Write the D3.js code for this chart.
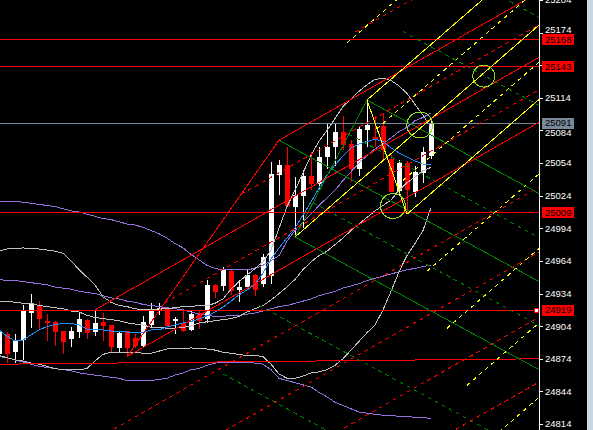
<!DOCTYPE html>
<html><head><meta charset="utf-8">
<script src="https://cdn.jsdelivr.net/npm/d3@7"></script>
<style>html,body{margin:0;padding:0;background:#000;overflow:hidden}svg{display:block}</style>
</head><body><svg id="c" width="593" height="430"></svg>
<script>
// ---- candles (index 0..54) ----
const open  = [24879,24897,24880,24891,24916,24923,24909,24908,24900,24893,24899,24910,24899,24908,24905,24884,24900,24893,24886,24905,24919,24920,24909,24907,24900,24916,24911,24942,24941,24955,24937,24940,24951,24943,24950,25043,25052,25014,25024,25042,25035,25060,25069,25083,25072,25048,25084,25078,25088,25058,25028,25054,25028,25045,25061];
const high  = [24900,24899,24897,24923,24934,24927,24915,24909,24900,24903,24916,24911,24919,24916,24905,24899,24900,24897,24913,24925,24925,24921,24912,24918,24919,24918,24946,24943,24958,24956,24946,24957,24952,24970,25055,25057,25069,25041,25048,25064,25069,25091,25091,25097,25075,25087,25112,25097,25100,25061,25057,25056,25051,25069,25095];
const low   = [24876,24870,24870,24873,24902,24901,24890,24886,24878,24885,24893,24892,24895,24890,24880,24880,24876,24884,24884,24903,24914,24903,24897,24899,24900,24901,24907,24930,24936,24933,24926,24939,24932,24940,24943,25025,25014,24986,24994,25029,25029,25049,25051,25066,25037,25042,25069,25069,25057,25027,25025,25007,25023,25036,25058];
const close = [24899,24879,24891,24919,24924,24910,24907,24899,24890,24900,24911,24898,24907,24904,24885,24898,24884,24886,24908,24920,24921,24904,24911,24900,24915,24909,24942,24936,24956,24937,24940,24951,24937,24968,25044,25052,25014,25025,25042,25035,25060,25069,25083,25071,25049,25085,25089,25075,25066,25028,25054,25029,25046,25064,25091];

// ---- indicators ----
const maBlue = [24900.5,24894.9,24890.3,24891.3,24895.9,24900.5,24903.7,24905.5,24906.4,24906.6,24905.1,24901.4,24900.5,24900.5,24899.5,24899.1,24898.6,24897.7,24898.2,24900.5,24900.5,24903.2,24905.1,24906.9,24908.3,24910.6,24913.3,24917,24921.6,24927.1,24932.7,24937.3,24942.3,24952.9,24965.8,24975.9,24985.1,24994.3,25006.2,25018.2,25031.1,25043,25052.2,25060.5,25067.9,25071.5,25073.8,25076.1,25074,25067.9,25063.3,25059.6,25055.9,25053.1,25052.2];
const bbUpper = [24973,24975,24975,24976,24975,24975,24974,24973,24971,24964,24956,24949,24942,24931,24926,24923,24922,24920,24919,24919,24920,24920,24921,24922,24922,24923,24923,24925,24929,24938,24945,24951,24957,24963,24974,24994,25014,25029,25045,25061,25074,25084,25095,25106,25113,25120,25126,25131,25132,25130,25125,25118,25108,25098,25087];
const bbMiddle = [24927,24927,24926,24925,24925,24923,24922,24921,24920,24918,24917,24914,24912,24911,24910,24909,24907,24906,24905,24903,24903,24902,24902,24903,24904,24907,24908,24909,24910,24911,24913,24917,24920,24923,24928,24934,24940,24947,24956,24963,24969,24973,24979,24985,24992,24998,25004,25010,25015,25020,25029,25036,25041,25047,25050];
const bbLower = [24877,24875,24873,24872,24870,24869,24867,24865,24864,24864,24864,24865,24872,24878,24880,24880,24880,24880,24879,24879,24881,24883,24883,24883,24884,24883,24883,24882,24880,24879,24878,24877,24877,24876,24869,24860,24856,24856,24858,24861,24862,24864,24868,24874,24882,24890,24898,24905,24919,24936,24954,24969,24980,24992,25013];
const envUpper = [25019,25019,25019,25018,25017,25016,25015,25014,25012,25010,25009,25007,25005,25003,25002,25000,24998,24997,24995,24992,24989,24985,24980,24976,24970,24965,24960,24957,24956,24956,24956,24956,24957,24960,24964,24969,24982,24992,25000,25007,25015,25022,25029,25038,25046,25054,25061,25067,25072,25077,25083,25087,25093,25096,25100];
const envMiddle = [24947,24946,24946,24945,24944,24943,24942,24940,24939,24938,24936,24935,24934,24932,24930,24929,24927,24926,24924,24923,24922,24921,24920,24919,24917,24915,24914,24913,24913,24914,24914,24915,24916,24918,24920,24922,24923,24925,24927,24929,24932,24934,24936,24939,24941,24943,24946,24948,24950,24952,24954,24956,24957,24959,24960];
const envLower = [24876,24875,24873,24871,24869,24867,24866,24865,24864,24863,24861,24860,24859,24858,24857,24856,24854,24854,24854,24854,24855,24856,24859,24861,24864,24865,24868,24870,24871,24871,24871,24871,24870,24869,24864,24856,24854,24852,24850,24848,24843,24839,24834,24831,24828,24825,24824,24823,24822,24822,24821,24821,24820,24820,24819];

// ---- objects ----
const redLevels = [25168, 25143, 25009, 24919];
const bidPrice = 25091;
const bottomTrend = [[0, 24869], [67.5, 24874]];
const redFork    = [[12, 24919], [35, 25075], [16, 24876]];
const yellowFork = [[37, 24986], [46, 25112], [51, 25007]];
const greenFork  = [[35, 25075], [46, 25112], [37, 24986]];
const forkLevels = [0, 1, -1, 0.5, -0.5, 2, -2, 3, -3, 4, -4, 5, -5];
const circles = [[52.6, 25089], [49.25, 25014.5], [60.6, 25134]];
const tickValues = d3.range(0, 14).map(k => 24814 + 30 * k);

// ---- layout ----
const W = 593, H = 430, plotR = 539;
const svg = d3.select("#c");
const x = d3.scaleLinear().domain([0, 54]).range([-1, 431]);
const y = d3.scaleLinear().domain([24814, 25204]).range([424, 0]);

svg.append("rect").attr("width", W).attr("height", H).attr("fill", "#000");
svg.append("defs").append("clipPath").attr("id", "plot")
  .append("rect").attr("x", 0).attr("y", 0).attr("width", plotR).attr("height", H);
const g = svg.append("g").attr("clip-path", "url(#plot)").attr("shape-rendering", "crispEdges");

// candles
const idx = d3.range(open.length);
idx.forEach(i => {
  const cx = Math.round(x(i));
  const up = close[i] >= open[i];
  const col = up ? "#ffffff" : "#ff0000";
  g.append("line").attr("x1", cx + 0.5).attr("x2", cx + 0.5)
    .attr("y1", y(high[i])).attr("y2", y(low[i])).attr("stroke", col).attr("stroke-width", 1);
  const top = y(Math.max(open[i], close[i])), bot = y(Math.min(open[i], close[i]));
  g.append("rect").attr("x", cx - 2).attr("width", 5)
    .attr("y", Math.round(top)).attr("height", Math.max(1, Math.round(bot - top)))
    .attr("fill", col);
});

// indicator lines
const ln = d3.line().x((d, i) => x(i)).y(d => y(d));
const series = [
  [envUpper, "#9370db"], [envMiddle, "#9370db"], [envLower, "#9370db"],
  [bbUpper, "#c0c0c0"], [bbMiddle, "#c0c0c0"], [bbLower, "#c0c0c0"],
  [maBlue, "#1e90ff"]
];
series.forEach(([s, c]) => g.append("path").attr("d", ln(s)).attr("fill", "none").attr("stroke", c).attr("stroke-width", 1));

// horizontal levels
redLevels.forEach(v => g.append("line").attr("x1", 0).attr("x2", plotR).attr("y1", Math.round(y(v)) + 0.5).attr("y2", Math.round(y(v)) + 0.5).attr("stroke", "#ff0000"));
g.append("line").attr("x1", 0).attr("x2", plotR).attr("y1", Math.round(y(bidPrice)) + 0.5).attr("y2", Math.round(y(bidPrice)) + 0.5).attr("stroke", "#778899");
g.append("line").attr("x1", x(bottomTrend[0][0])).attr("y1", y(bottomTrend[0][1]))
  .attr("x2", x(bottomTrend[1][0])).attr("y2", y(bottomTrend[1][1])).attr("stroke", "#ff0000");

// pitchforks
function drawFork(f, color) {
  const [p0, p1, p2] = f;
  const M = [(p1[0] + p2[0]) / 2, (p1[1] + p2[1]) / 2];
  const d = [M[0] - p0[0], M[1] - p0[1]];
  const seg = (a, b, dashed) => {
    const l = g.append("line").attr("x1", x(a[0])).attr("y1", y(a[1])).attr("x2", x(b[0])).attr("y2", y(b[1]))
      .attr("stroke", color).attr("stroke-width", 1);
    if (dashed) l.attr("stroke-dasharray", "4,4");
  };
  seg(p1, p2, false);
  forkLevels.forEach(t => {
    let s;
    if (t === 0) s = p0; else if (t === 1) s = p1; else if (t === -1) s = p2;
    else s = [M[0] + t * (p1[0] - M[0]), M[1] + t * (p1[1] - M[1])];
    const k = (90 - s[0]) / d[0];
    seg(s, [s[0] + k * d[0], s[1] + k * d[1]], !(t === 0 || Math.abs(t) === 1));
  });
}
drawFork(greenFork, "#008000");
drawFork(redFork, "#ff0000");
drawFork(yellowFork, "#ffff00");

// circles
const radii = [13, 12.5, 11];
circles.forEach((c, i) => g.append("circle").attr("cx", x(c[0])).attr("cy", y(c[1])).attr("r", radii[i])
  .attr("fill", "none").attr("stroke", "#90e020").attr("stroke-width", 1));

// ---- right price axis ----
const ax = svg.append("g").attr("shape-rendering", "crispEdges");
ax.append("line").attr("x1", plotR + 0.5).attr("x2", plotR + 0.5).attr("y1", 0).attr("y2", H).attr("stroke", "#fff");
const font = "'Liberation Sans', Arial, sans-serif";
const boxes = redLevels.map(v => ({ v, fill: "#ff0000" })).concat([{ v: bidPrice, fill: "#778899" }]);
tickValues.forEach(v => {
  let ty = y(v);
  ax.append("line").attr("x1", plotR).attr("x2", plotR + 4).attr("y1", Math.round(ty) + 0.5).attr("y2", Math.round(ty) + 0.5).attr("stroke", "#fff");
  let hidden = false;
  boxes.forEach(b => {
    const by = y(b.v), dd = ty - by;
    if (Math.abs(dd) < 4) hidden = true;
    else if (Math.abs(dd) < 10) ty = by + Math.sign(dd) * 10;
  });
  if (!hidden) ax.append("text").attr("x", 545).attr("y", ty).attr("dy", "0.36em")
    .attr("fill", "#fff").attr("font-family", font).attr("font-size", "9.5px").text(v);
});
boxes.forEach(b => {
  const by = y(b.v);
  ax.append("rect").attr("x", 542).attr("y", Math.round(by) - 5).attr("width", 32).attr("height", 11).attr("fill", b.fill);
  ax.append("text").attr("x", 545).attr("y", by).attr("dy", "0.38em").attr("fill", "#000")
    .attr("font-family", font).attr("font-size", "9.5px").text(b.v);
});
// small marker on 24919 line
ax.append("rect").attr("x", 534.5).attr("y", Math.round(y(24919)) - 1.5).attr("width", 4).attr("height", 4)
  .attr("fill", "#fff").attr("stroke", "#ff0000");
// window edge
svg.append("rect").attr("x", 588).attr("y", 0).attr("width", 5).attr("height", H).attr("fill", "#c9d7e5");
svg.append("rect").attr("x", 587).attr("y", 0).attr("width", 1).attr("height", H).attr("fill", "#e0e0e0");
</script></body></html>
